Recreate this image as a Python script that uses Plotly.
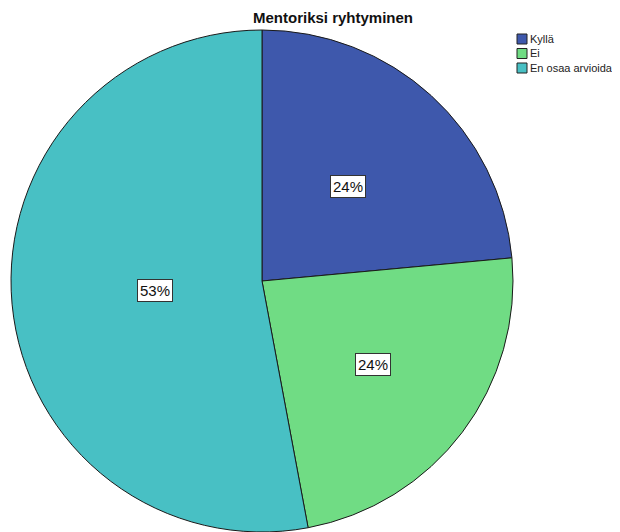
import math

import plotly.graph_objects as go

# Counts per answer (4 / 4 / 9 of 17)
categories = ["Kyllä", "Ei", "En osaa arvioida"]
counts = [4, 4, 9]
label_texts = ["24%", "24%", "53%"]

_COLORS = ["#3e58ac", "#70dc84", "#48c0c4"]
# how far out along the slice's mid-angle each boxed label sits (fraction of radius)
_LABEL_RADIUS = [0.51, 0.555, 0.43]
_FONT = "Liberation Sans, Arial"

# the page body adds an 8px margin, so the figure is 8px smaller than the window
PAGE_PAD = 8
W, H = 620 - PAGE_PAD, 532 - PAGE_PAD
M_L, M_R, M_T, M_B = 10 - PAGE_PAD, 0, 30 - PAGE_PAD, 0
PLOT_W = W - M_L - M_R
PLOT_H = H - M_T - M_B
PIE_D = PLOT_H  # pie diameter = domain height


def paper_x(win_x):
    """Window pixel x -> paper coordinate."""
    return (win_x - PAGE_PAD - M_L) / PLOT_W


def paper_y(win_y):
    """Window pixel y -> paper coordinate."""
    return 1 - (win_y - PAGE_PAD - M_T) / PLOT_H


fig = go.Figure(
    go.Pie(
        labels=categories,
        values=counts,
        sort=False,
        direction="clockwise",
        rotation=0,
        textinfo="none",
        hoverinfo="label+percent",
        showlegend=False,
        marker={"colors": _COLORS, "line": {"color": "#1a1a1a", "width": 1}},
        domain={"x": [0, (PIE_D + 2) / PLOT_W], "y": [0, 1]},
    )
)

# boxed percentage labels, placed along each slice's mid-angle
cx = (PIE_D + 2) / 2
cy = PLOT_H / 2
radius = PIE_D / 2
total = sum(counts)
start = 0.0
annotations = []
for value, text, frac in zip(counts, label_texts, _LABEL_RADIUS):
    sweep = value / total * 360
    mid = math.radians(start + sweep / 2)
    start += sweep
    px = cx + frac * radius * math.sin(mid)
    py = cy - frac * radius * math.cos(mid)
    annotations.append(
        dict(
            x=px / PLOT_W,
            y=1 - py / PLOT_H,
            xref="paper",
            yref="paper",
            xanchor="center",
            yanchor="middle",
            text=text,
            showarrow=False,
            font={"family": _FONT, "size": 15, "color": "#111"},
            bgcolor="white",
            bordercolor="#333",
            borderwidth=1,
            borderpad=2,
        )
    )

# compact SPSS-style legend in the top-right corner (key squares + labels)
shapes = []
LEG_X, LEG_Y, LEG_STEP, KEY = 517, 39, 14.5, 10
for i, (name, color) in enumerate(zip(categories, _COLORS)):
    yc = LEG_Y + i * LEG_STEP
    shapes.append(
        dict(
            type="rect",
            xref="paper",
            yref="paper",
            x0=paper_x(LEG_X),
            x1=paper_x(LEG_X + KEY),
            y0=paper_y(yc - KEY / 2),
            y1=paper_y(yc + KEY / 2),
            fillcolor=color,
            line={"color": "#222", "width": 1},
        )
    )
    annotations.append(
        dict(
            x=paper_x(LEG_X + KEY + 1),
            y=paper_y(yc),
            xref="paper",
            yref="paper",
            xanchor="left",
            yanchor="middle",
            text=name,
            showarrow=False,
            font={"family": _FONT, "size": 11, "color": "#222"},
        )
    )

fig.update_layout(
    width=W,
    height=H,
    margin={"l": M_L, "r": M_R, "t": M_T, "b": M_B},
    paper_bgcolor="white",
    title={
        "text": "<b>Mentoriksi ryhtyminen</b>",
        "x": (333 - PAGE_PAD) / W,
        "xanchor": "center",
        "y": 1 - (18 - PAGE_PAD) / H,
        "yanchor": "middle",
        "font": {"family": _FONT, "size": 15, "color": "#111"},
    },
    annotations=annotations,
    shapes=shapes,
)

fig.write_html("out.html")
